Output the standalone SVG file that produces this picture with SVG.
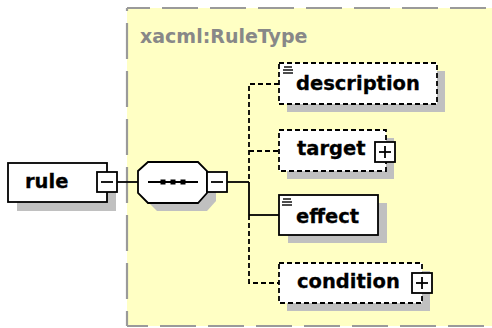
<svg xmlns="http://www.w3.org/2000/svg" width="492" height="328" viewBox="0 0 492 328">
<style>
.lbl{font-family:"DejaVu Sans",Verdana,sans-serif;font-weight:bold;font-size:19.5px;fill:#000;stroke:#000;stroke-width:0.3}
.title{font-family:"DejaVu Sans",Verdana,sans-serif;font-weight:bold;font-size:19px;fill:#888}
.box{fill:#fff;stroke:#000;stroke-width:1.8}
.opt{stroke-dasharray:5 3}
.shadow{fill:#c0c0c0;stroke:none}
.ctrl{fill:#fff;stroke:#000;stroke-width:1.8}
.sign{stroke:#000;stroke-width:1.8;fill:none}
.doc{stroke:#000;stroke-width:1.4}
.conn{fill:none;stroke:#000;stroke-width:1.8}
.dash{stroke-dasharray:5 3}
.border{stroke:#9a9a9a;stroke-width:2.2;fill:none;stroke-dasharray:36 12}
</style>
<g id="complexType">
<rect x="127" y="8" width="380" height="318" fill="#ffffc4"/>
<line class="border" x1="127" y1="8" x2="492" y2="8" stroke-dashoffset="13"/>
<line class="border" x1="127" y1="8" x2="127" y2="326" stroke-dashoffset="33"/>
<line class="border" x1="127" y1="326" x2="492" y2="326" stroke-dashoffset="15"/>
<text class="title" x="140" y="43">xacml:RuleType</text>
</g>
<g id="connectors">
<line class="conn" x1="117" y1="182" x2="138" y2="182"/>
<line class="conn" x1="227" y1="182" x2="249" y2="182"/>
<line class="conn" x1="249" y1="182" x2="249" y2="215"/>
<line class="conn" x1="249" y1="215" x2="279" y2="215"/>
<path class="conn dash" d="M279,84 H249 V182"/>
<line class="conn dash" x1="249" y1="151" x2="279" y2="151"/>
<path class="conn dash" d="M249,215 V283 H279"/>
</g>
<g id="rule">
<rect class="shadow" x="17" y="172" width="99" height="39"/>
<rect class="box" x="8" y="163" width="99" height="39"/>
<text class="lbl" x="25" y="188">rule</text>
<rect class="ctrl" x="97" y="172" width="20" height="20"/>
<line class="sign" x1="101" y1="182" x2="113" y2="182"/>
</g>
<g id="sequence">
<polygon class="shadow" points="157,170 207,170 216,179 216,201 207,211 157,211 147,201 147,179"/>
<polygon class="box" points="148,162 198,162 207,171 207,193 198,203 148,203 138,193 138,171"/>
<line class="sign" x1="148" y1="182" x2="198" y2="182"/>
<rect x="160.5" y="179.5" width="5" height="5" fill="#000"/>
<rect x="170.5" y="179.5" width="5" height="5" fill="#000"/>
<rect x="180.5" y="179.5" width="5" height="5" fill="#000"/>
<rect class="ctrl" x="207" y="172" width="20" height="20"/>
<line class="sign" x1="211" y1="182" x2="223" y2="182"/>
</g>
<g id="description">
<rect class="shadow" x="287" y="71" width="158" height="41"/>
<rect class="box opt" x="279" y="63" width="158" height="41"/>
<line class="doc" x1="284" y1="67" x2="292" y2="67"/>
<line class="doc" x1="283" y1="70" x2="293" y2="70"/>
<line class="doc" x1="283" y1="73" x2="293" y2="73"/>
<text class="lbl" x="296" y="90">description</text>
</g>
<g id="target">
<rect class="shadow" x="287" y="138" width="107" height="41"/>
<rect class="box opt" x="279" y="130" width="107" height="41"/>
<text class="lbl" x="297" y="155">target</text>
<rect class="ctrl" x="375" y="142" width="20" height="20"/>
<line class="sign" x1="379" y1="152" x2="391" y2="152"/>
<line class="sign" x1="385" y1="146" x2="385" y2="158"/>
</g>
<g id="effect">
<rect class="shadow" x="288" y="203" width="99" height="40"/>
<rect class="box" x="279" y="195" width="99" height="40"/>
<line class="doc" x1="283" y1="199" x2="291" y2="199"/>
<line class="doc" x1="282" y1="202" x2="292" y2="202"/>
<line class="doc" x1="282" y1="205" x2="292" y2="205"/>
<text class="lbl" x="296" y="223">effect</text>
</g>
<g id="condition">
<rect class="shadow" x="287" y="271" width="143" height="40"/>
<rect class="box opt" x="279" y="263" width="143" height="40"/>
<text class="lbl" x="297" y="288">condition</text>
<rect class="ctrl" x="412" y="273" width="20" height="20"/>
<line class="sign" x1="416" y1="283" x2="428" y2="283"/>
<line class="sign" x1="422" y1="277" x2="422" y2="289"/>
</g>
</svg>
